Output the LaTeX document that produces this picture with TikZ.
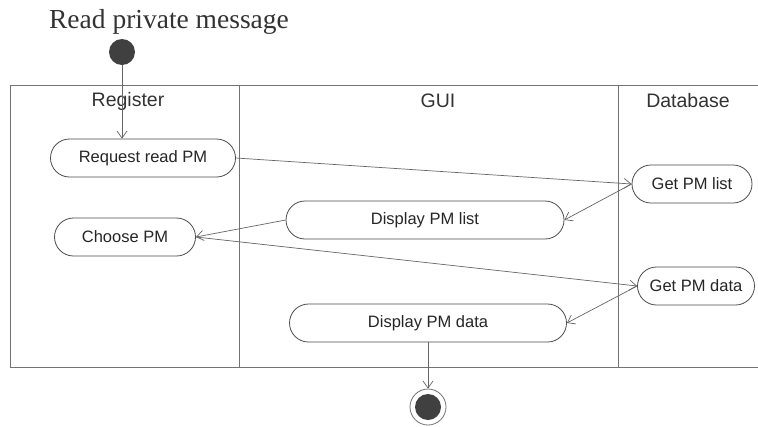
\documentclass[tikz,border=0pt]{standalone}
\usepackage{fontspec}
\setmainfont{Liberation Serif}
\setsansfont{Liberation Sans}
\usetikzlibrary{arrows.meta,shapes.misc,positioning}

\begin{document}
\begin{tikzpicture}[x=1pt, y=-1pt,
    lane/.style={draw=black!55, line width=0.8pt},
    head/.style={font=\sffamily\fontsize{19.5}{22}\selectfont, text=black!80},
    act/.style={draw=black!70, line width=0.8pt, rounded rectangle, minimum height=38pt,
                inner xsep=0pt, font=\sffamily\fontsize{16.5}{18}\selectfont, text=black!85},
    flow/.style={draw=black!60, line width=0.7pt, -{Straight Barb[length=7pt, width=10pt]}}]
    \useasboundingbox[fill=white] (0,0) rectangle (758,426);

    % swimlanes
    \draw[lane] (758,85) -- (10,85) -- (10,367) -- (758,367);
    \draw[lane] (239,85) -- (239,367);
    \draw[lane] (618,85) -- (618,367);
    \node[head] (register) at (128,101) {Register};
    \node[head] (gui) at (438,101) {GUI};
    \node[head] (database) at (688,101) {Database};

    % title, start and end
    \node[font=\fontsize{27.5}{30}\selectfont, text=black!80] (title) at (169,22) {Read private message};
    \node[circle, fill=black!75, minimum size=26pt, inner sep=0pt] (start) at (122,52) {};
    \node[circle, draw=black!55, line width=0.8pt, minimum size=36pt, inner sep=0pt] (stop) at (428,407) {};
    \fill[black!75] (stop) circle (13pt);

    % activities
    \node[act, minimum width=185pt] (reqread) at (143,158) {Request read PM};
    \node[act, minimum width=141pt] (choose) at (125,237) {Choose PM};
    \node[act, minimum width=278pt] (showlist) at (425,220) {Display PM list};
    \node[act, minimum width=277pt] (showdata) at (428,323) {Display PM data};
    \node[act, minimum width=120pt] (getlist) at (692,184) {Get PM list};
    \node[act, minimum width=117pt] (getdata) at (696,286) {Get PM data};

    % flows
    \draw[flow] (start) -- (start |- reqread.north);
    \draw[flow] (reqread.east) -- (getlist.west);
    \draw[flow] (getlist.west) -- (showlist.east);
    \draw[flow] (showlist.west) -- (choose.east);
    \draw[flow] (choose.east) -- (getdata.west);
    \draw[flow] (getdata.west) -- (showdata.east);
    \draw[flow] (showdata.south) -- (stop.north);
\end{tikzpicture}
\end{document}
